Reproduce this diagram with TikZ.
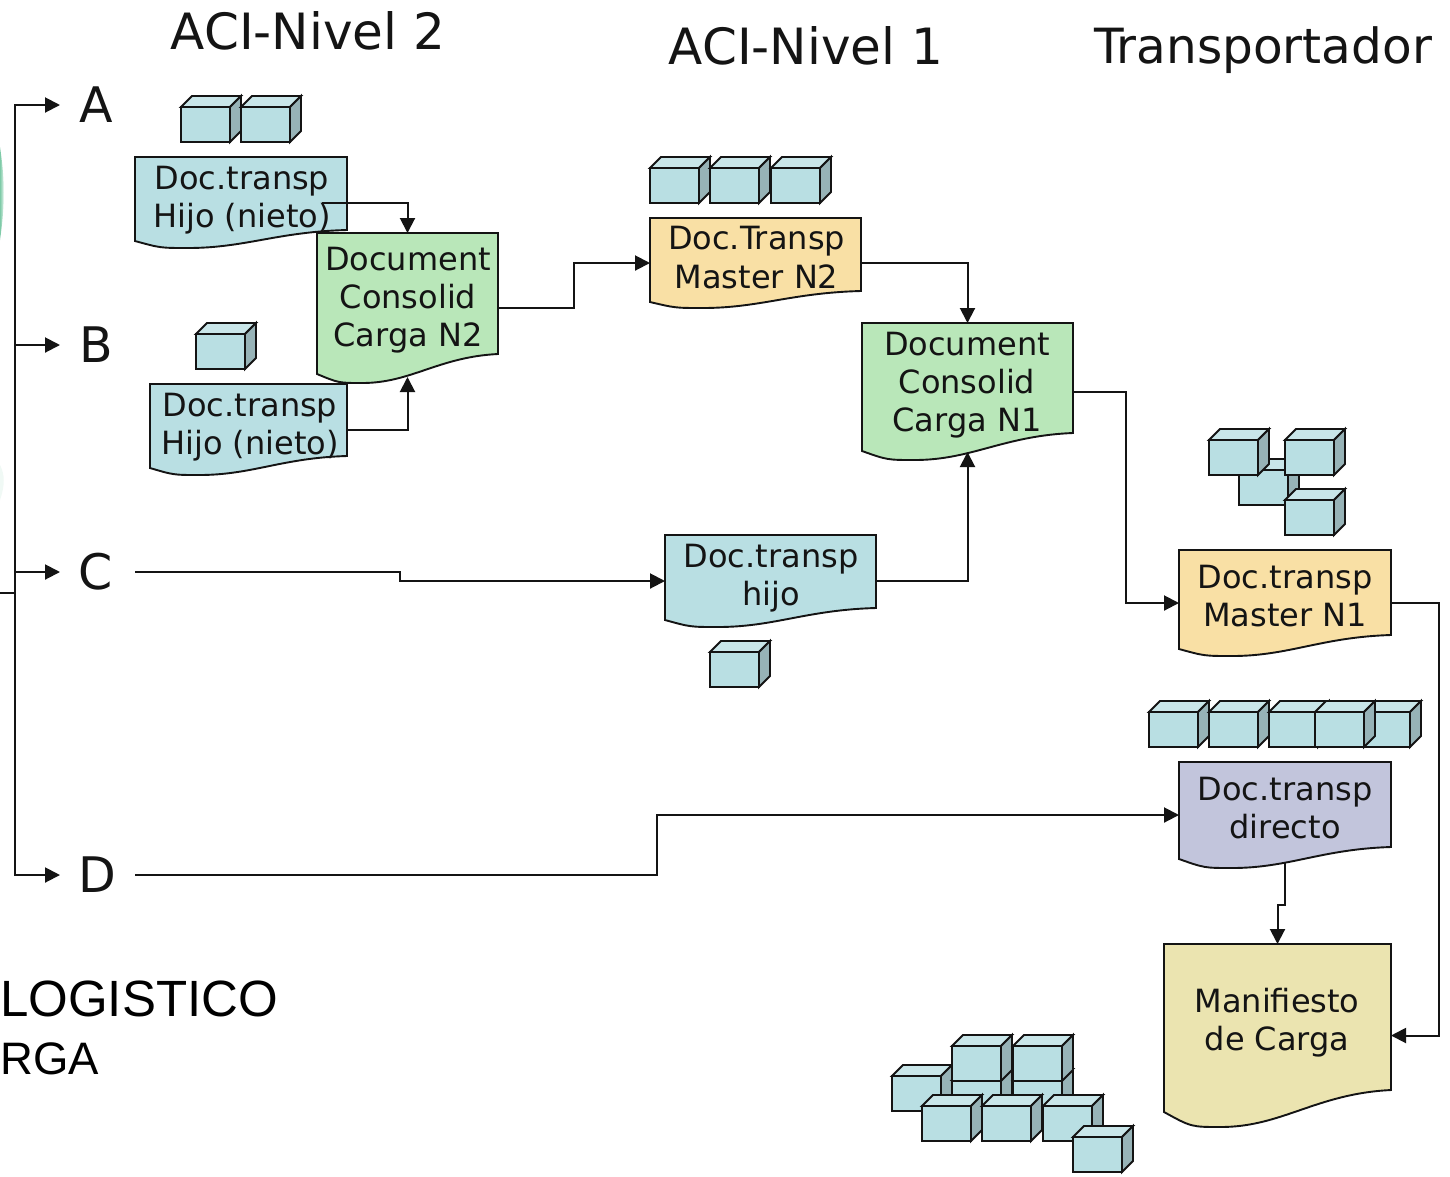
\documentclass[tikz,border=0pt]{standalone}
\usepackage{fontspec}
\setmainfont{DejaVu Sans}
\newfontfamily\arialfont{Liberation Sans}
\usetikzlibrary{arrows.meta}
\definecolor{docblue}{HTML}{B9DFE3}
\definecolor{docgreen}{HTML}{B9E7B9}
\definecolor{docorange}{HTML}{F9E0A5}
\definecolor{docpurple}{HTML}{C2C5DC}
\definecolor{docyellow}{HTML}{EBE4B0}
\definecolor{cubetop}{HTML}{C9E6E9}
\definecolor{cubeside}{HTML}{97B3B7}
\definecolor{sliver}{HTML}{7FCBA8}
\tikzset{
  outline/.style={draw=black!92,line width=1.9pt,line join=miter},
  conn/.style={draw=black!92,line width=2pt},
  arr/.style={conn,-{Triangle[length=15pt,width=15pt]}},
  docnode/.style={inner sep=0pt,outer sep=0pt,rectangle},
  doclabel/.style={inner sep=0pt,align=center,font=\fontsize{32}{38.3}\selectfont,text=black!92},
  titlelabel/.style={inner sep=0pt,font=\fontsize{50}{58}\selectfont,text=black!92},
  leftlabel/.style={inner sep=0pt,anchor=base west,font=\arialfont\fontsize{51}{58}\selectfont,text=black},
  branch/.style={inner sep=0pt,outer sep=0pt,minimum width=75pt,minimum height=50pt,font=\fontsize{49}{58}\selectfont,text=black!92},
}
% name, x1, y1, x2, yright, yleft, ylow, fill
\newcommand{\docshape}[8]{%
  \pgfmathsetmacro\dw{#4-#2}%
  \pgfmathsetmacro\dh{#7-#3}%
  \pgfmathsetmacro\cxx{(#2+#4)/2}%
  \pgfmathsetmacro\cyy{(#3+#7)/2}%
  \pgfmathsetmacro\ca{#4-0.33*\dw}%
  \pgfmathsetmacro\cb{#2+0.52*\dw}%
  \pgfmathsetmacro\cc{#2+0.25*\dw}%
  \pgfmathsetmacro\cd{#2+0.12*\dw}%
  \pgfmathsetmacro\ce{#5+0.02*\dh}%
  \path[outline,fill=#8] (#2,#3) -- (#4,#3) -- (#4,#5)
    .. controls (\ca,\ce) and (\cb,#7) .. (\cc,#7)
    .. controls (\cd,#7) .. (#2,#6) -- cycle;
  \node[docnode,minimum width=\dw pt,minimum height=\dh pt] (#1) at (\cxx,\cyy) {};
}
\newcommand{\cubeshape}[2]{%
  \path[outline,fill=cubetop] (#1,#2) -- ++(11,-11) -- ++(49,0) -- ++(-11,11) -- cycle;
  \path[outline,fill=cubeside] (#1+49,#2) -- ++(11,-11) -- ++(0,35) -- ++(-11,11) -- cycle;
  \path[outline,fill=docblue] (#1,#2) rectangle ++(49,35);
}
\begin{document}
\begin{tikzpicture}[x=1pt,y=-1pt]
\useasboundingbox (0,0) rectangle (1450,1176);
\fill[white] (0,0) rectangle (1450,1176);
% partial disc at the left edge
\shade[left color=sliver,right color=white] (0,147) .. controls (5,180) and (5,205) .. (0,240) -- cycle;
\fill[sliver!12] (0,465) .. controls (5,475) and (5,485) .. (0,500) -- cycle;

% titles
\node[titlelabel] (t2) at (308,31) {ACI-Nivel 2};
\node[titlelabel] (t1) at (806,46) {ACI-Nivel 1};
\node[titlelabel,font=\fontsize{48.5}{58}\selectfont] (t0) at (1263,50) {Transportador};
\node[leftlabel] (lg) at (0,1016) {LOGISTICO};
\node[leftlabel,font=\arialfont\fontsize{45.5}{58}\selectfont] (rg) at (0.5,1074) {RGA};

% branch labels
\node[branch] (A) at (97.5,105) {\raisebox{-2pt}{A}\hspace*{3pt}};
\node[branch] (B) at (97.5,345) {\raisebox{-2pt}{B}\hspace*{2pt}};
\node[branch] (C) at (97.5,572) {\raisebox{-2pt}{C}\hspace*{3pt}};
\node[branch] (D) at (97.5,875) {\raisebox{-2pt}{D}};

% cubes
\cubeshape{181}{107}\cubeshape{241}{107}
\cubeshape{196}{334}
\cubeshape{650}{168}\cubeshape{710}{168}\cubeshape{771}{168}
\cubeshape{710}{652}
\cubeshape{1239}{470}\cubeshape{1209}{440}\cubeshape{1285}{440}\cubeshape{1285}{500}
\cubeshape{1149}{712}\cubeshape{1209}{712}\cubeshape{1269}{712}\cubeshape{1361}{712}\cubeshape{1315}{712}
\cubeshape{892}{1076}
\cubeshape{952}{1080}\cubeshape{1013}{1080}
\cubeshape{952}{1046}\cubeshape{1013}{1046}
\cubeshape{922}{1106}\cubeshape{982}{1106}\cubeshape{1043}{1106}
\cubeshape{1073}{1137}

% documents
\docshape{docA}{135}{157}{347}{230}{241}{248}{docblue}
\docshape{consN2}{317}{233}{498}{354}{374}{383}{docgreen}
\docshape{docB}{150}{384}{347}{456}{468}{475}{docblue}
\docshape{mastN2}{650}{218}{861}{291}{302}{308}{docorange}
\docshape{consN1}{862}{323}{1073}{433}{451}{460}{docgreen}
\docshape{hijo}{665}{535}{876}{608}{620}{627}{docblue}
\docshape{mastN1}{1179}{550}{1391}{635}{649}{656}{docorange}
\docshape{directo}{1179}{762}{1391}{847}{859}{868}{docpurple}
\docshape{manif}{1164}{944}{1391}{1090}{1112}{1127}{docyellow}

% document texts
\node[doclabel] (docAt) at (242,200) {Doc.transp\\Hijo (nieto)};
\node[doclabel] (docBt) at (250,427) {Doc.transp\\Hijo (nieto)};
\node[doclabel] (consN2t) at (408,300) {Document\\Consolid\\Carga N2};
\node[doclabel] (mastN2t) at (756.5,257.5) {Doc.Transp\\Master N2};
\node[doclabel] (consN1t) at (967,385) {Document\\Consolid\\Carga N1};
\node[doclabel] (hijot) at (771,578) {Doc.transp\\hijo};
\node[doclabel] (mastN1t) at (1285,596) {Doc.transp\\Master N1};
\node[doclabel] (directot) at (1285,808) {Doc.transp\\directo};
\node[doclabel] (maniftxt) at (1277,1023) {Manifiesto\\de Carga};

% connectors
\coordinate (stub) at (0,593);
\coordinate (trunkT) at (15,593);
\draw[conn,line width=2.6pt] (stub) -- (trunkT);
\draw[arr] (trunkT) |- (A.west);
\draw[arr] (trunkT) |- (B.west);
\draw[arr] (trunkT) |- (C.west);
\draw[arr] (trunkT) |- (D.west);

\coordinate (cbend) at (400,572);
\draw[arr] (C.east) -- (cbend) -- (cbend |- hijo.west) -- (hijo.west);
\coordinate (dbend) at (657,875);
\draw[arr] (D.east) -- (dbend) -- (dbend |- directo.west) -- (directo.west);

\coordinate (aStart) at (322,202.5);
\draw[arr] (aStart) -| (consN2.north);
\coordinate (n2In) at (consN2.south |- 0,377);
\draw[arr] (docB.east) -| (n2In);
\coordinate (n2bend) at (574,308);
\draw[arr] (consN2.east) -- (n2bend) -- (n2bend |- mastN2.west) -- (mastN2.west);
\draw[arr] (mastN2.east) -| (consN1.north);
\coordinate (n1In) at (consN1.south |- 0,452);
\draw[arr] (hijo.east) -| (n1In);
\coordinate (n1bend) at (1126,391.5);
\draw[arr] (consN1.east) -- (n1bend) -- (n1bend |- mastN1.west) -- (mastN1.west);
\coordinate (m1bend) at (1439,603);
\draw[arr] (mastN1.east) -- (m1bend) -- (m1bend |- manif.east) -- (manif.east);
\coordinate (dirOut) at (directo.south |- 0,862);
\coordinate (dirBend) at (1285,905);
\draw[arr] (dirOut) -- (dirBend) -- (dirBend -| manif.north) -- (manif.north);
\end{tikzpicture}
\end{document}
